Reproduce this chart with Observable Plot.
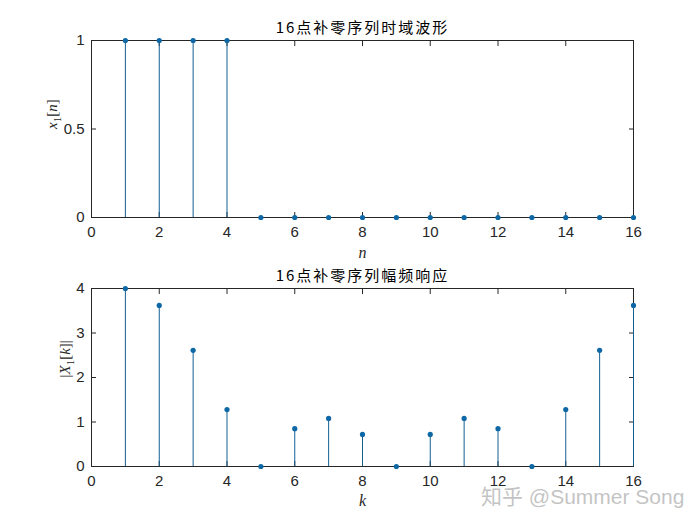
<!DOCTYPE html>
<html><head><meta charset="utf-8">
<script src="https://cdn.jsdelivr.net/npm/d3@7"></script>
<script src="https://cdn.jsdelivr.net/npm/@observablehq/plot@0.6"></script>
<style>
body{margin:0;background:#fff;}
#wrap{position:relative;width:700px;height:525px;overflow:hidden;background:#fff}
#top,#bot{position:absolute;left:0}
#top{top:0}#bot{top:260px}
#wm{position:absolute;left:481px;top:481px;font:21px 'Liberation Sans',Arial,sans-serif;color:rgba(185,185,185,0.85);white-space:nowrap;line-height:28px}
</style></head><body>
<div id="wrap"><div id="top"></div><div id="bot"></div><div id="wm"><span style="font-family:'Noto Sans CJK SC'">知乎</span> @Summer Song</div></div>
<script>
// ---- data ----
const n = [1,2,3,4,5,6,7,8,9,10,11,12,13,14,15,16];
const x1 = [1,1,1,1,0,0,0,0,0,0,0,0,0,0,0,0];
const k = [1,2,3,4,5,6,7,8,9,10,11,12,13,14,15,16];
const X1mag = [4, 3.62, 2.61, 1.28, 0, 0.85, 1.08, 0.72, 0, 0.72, 1.08, 0.85, 0, 1.28, 2.61, 3.62];
const xTicks = [0,2,4,6,8,10,12,14,16];
const yTicksTop = [0,0.5,1];
const yTicksBot = [0,1,2,3,4];
const titleTop = "16点补零序列时域波形";
const titleBot = "16点补零序列幅频响应";
const xLabelTop = "n";
const xLabelBot = "k";

const stemColor = "#135f92";
const dotColor = "#0e68a5";
const axisColor = "#262626";

function stemPlot({xs, ys, yDomain, yTicks, title, xlabel, height, marginTop, marginBottom, xlabDy, ylabDx, ylabKey}) {
  const data = xs.map((x, i) => ({x, y: ys[i]}));
  const fmt = d => String(d);
  const svg = Plot.plot({
    width: 700, height,
    marginLeft: 91, marginRight: 67, marginTop, marginBottom,
    style: {fontFamily: "'Liberation Sans', Arial, sans-serif", fontSize: "15px", color: axisColor, background: "white", overflow: "visible"},
    x: {domain: [0, 16], axis: null},
    y: {domain: yDomain, axis: null},
    marks: [
      Plot.frame({stroke: axisColor}),
      Plot.axisX(xTicks, {anchor: "bottom", tickSize: -5, fill: "none", stroke: axisColor, label: null}),
      Plot.axisX(xTicks, {anchor: "top", tickSize: -5, fill: "none", stroke: axisColor, label: null}),
      Plot.axisX(xTicks, {anchor: "bottom", tickSize: 0, tickPadding: 9, tickFormat: fmt, fill: axisColor, fontSize: 15, label: null}),
      Plot.axisY(yTicks, {anchor: "left", tickSize: -5, fill: "none", stroke: axisColor, label: null}),
      Plot.axisY(yTicks, {anchor: "right", tickSize: -5, fill: "none", stroke: axisColor, label: null}),
      Plot.axisY(yTicks, {anchor: "left", tickSize: 0, tickPadding: 7, tickFormat: fmt, fill: axisColor, fontSize: 15, label: null}),
      Plot.ruleX(data, {x: "x", y1: 0, y2: "y", stroke: stemColor, strokeWidth: 1}),
      Plot.dot(data, {x: "x", y: "y", r: 2.6, fill: dotColor, stroke: "none"}),
      Plot.text([title], {frameAnchor: "top", dy: -12, lineAnchor: "middle", fontFamily: "'Noto Sans CJK SC'", fontSize: 15, fill: "#000"}),
      Plot.text([xlabel], {frameAnchor: "bottom", dy: xlabDy, lineAnchor: "middle", fontFamily: "'Liberation Serif', serif", fontStyle: "italic", fontSize: 16, fill: axisColor}),
      Plot.text([ylabKey], {frameAnchor: "left", dx: ylabDx, rotate: -90, lineAnchor: "middle", fontFamily: "'Liberation Serif', serif", fontSize: 15, fill: axisColor})
    ]
  });
  const s = d3.select(svg);
  s.selectAll("text").filter(function(){ return this.textContent === title; }).attr("letter-spacing", "2px");
  return svg;
}

function fixYLabel(svg, key, parts) {
  d3.select(svg).selectAll("text").filter(function(){ return this.textContent === key; }).each(function(){
    const t = d3.select(this);
    t.text(null);
    for (const p of parts) {
      const ts = t.append("tspan").text(p.t);
      if (p.i) ts.attr("font-style", "italic");
      if (p.sub) ts.attr("font-size", 11).attr("dy", 4);
      if (p.up) ts.attr("dy", -4);
    }
  });
}

const topSvg = stemPlot({xs: n, ys: x1, yDomain: [0, 1], yTicks: yTicksTop, title: titleTop, xlabel: xLabelTop,
  height: 260, marginTop: 40, marginBottom: 43, xlabDy: 35, ylabDx: -39, ylabKey: "x1[n]"});
fixYLabel(topSvg, "x1[n]", [{t: "x", i: true}, {t: "1", sub: true}, {t: "[", up: true}, {t: "n", i: true}, {t: "]"}]);
document.getElementById("top").appendChild(topSvg);

const botSvg = stemPlot({xs: k, ys: X1mag, yDomain: [0, 4], yTicks: yTicksBot, title: titleBot, xlabel: xLabelBot,
  height: 265, marginTop: 28, marginBottom: 59, xlabDy: 34, ylabDx: -26, ylabKey: "|X1[k]|"});
fixYLabel(botSvg, "|X1[k]|", [{t: "|"}, {t: "X", i: true}, {t: "1", sub: true}, {t: "[", up: true}, {t: "k", i: true}, {t: "]|"}]);
document.getElementById("bot").appendChild(botSvg);
</script>
</body></html>
